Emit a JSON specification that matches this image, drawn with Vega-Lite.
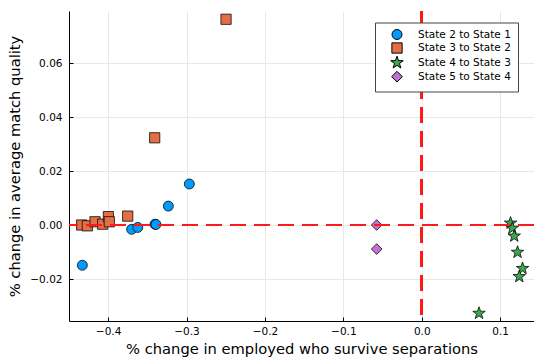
{
  "$schema": "https://vega.github.io/schema/vega-lite/v6.json",
  "width": 465,
  "height": 310,
  "autosize": "none",
  "padding": {"left": 69, "top": 11, "right": 0, "bottom": 41},
  "background": "white",
  "config": {
    "view": {"stroke": null},
    "font": "DejaVu Sans",
    "axis": {
      "domainColor": "#000000",
      "domainWidth": 1,
      "tickColor": "#000000",
      "tickSize": -4,
      "tickWidth": 1,
      "labelFont": "DejaVu Sans",
      "labelFontSize": 10.5,
      "labelColor": "#000000",
      "titleFont": "DejaVu Sans",
      "titleFontSize": 14.7,
      "titleFontWeight": "normal",
      "titleColor": "#000000",
      "gridColor": "#e8e8e8",
      "gridWidth": 1
    }
  },
  "data": {
    "values": [
      {"x": -0.4329, "y": -0.0149, "series": "State 2 to State 1"},
      {"x": -0.370, "y": -0.0016, "series": "State 2 to State 1"},
      {"x": -0.3622, "y": -0.0009, "series": "State 2 to State 1"},
      {"x": -0.3402, "y": 0.0003, "series": "State 2 to State 1"},
      {"x": -0.339, "y": 0.0002, "series": "State 2 to State 1"},
      {"x": -0.3232, "y": 0.0070, "series": "State 2 to State 1"},
      {"x": -0.2964, "y": 0.0152, "series": "State 2 to State 1"},
      {"x": -0.2496, "y": 0.0762, "series": "State 3 to State 2"},
      {"x": -0.3406, "y": 0.0323, "series": "State 3 to State 2"},
      {"x": -0.4337, "y": 0.0, "series": "State 3 to State 2"},
      {"x": -0.4265, "y": -0.0003, "series": "State 3 to State 2"},
      {"x": -0.4167, "y": 0.0012, "series": "State 3 to State 2"},
      {"x": -0.4069, "y": 0.0003, "series": "State 3 to State 2"},
      {"x": -0.3997, "y": 0.0031, "series": "State 3 to State 2"},
      {"x": -0.3985, "y": 0.0012, "series": "State 3 to State 2"},
      {"x": -0.375, "y": 0.0033, "series": "State 3 to State 2"},
      {"x": 0.1133, "y": 0.0007, "series": "State 4 to State 3"},
      {"x": 0.1156, "y": -0.0012, "series": "State 4 to State 3"},
      {"x": 0.118, "y": -0.0041, "series": "State 4 to State 3"},
      {"x": 0.1222, "y": -0.0101, "series": "State 4 to State 3"},
      {"x": 0.1286, "y": -0.0161, "series": "State 4 to State 3"},
      {"x": 0.1244, "y": -0.0191, "series": "State 4 to State 3"},
      {"x": 0.0731, "y": -0.0327, "series": "State 4 to State 3"},
      {"x": -0.0574, "y": 0.0, "series": "State 5 to State 4"},
      {"x": -0.0574, "y": -0.0089, "series": "State 5 to State 4"}
    ]
  },
  "layer": [
    {
      "mark": {"type": "point", "filled": true, "opacity": 1, "stroke": "#000000", "strokeWidth": 1, "strokeOpacity": 0.75},
      "encoding": {
        "x": {
          "field": "x", "type": "quantitative",
          "scale": {"domain": [-0.4499, 0.1432], "nice": false, "zero": false},
          "axis": {"values": [-0.4, -0.3, -0.2, -0.1, 0, 0.1], "format": ".1f", "title": "% change in employed who survive separations", "labelPadding": 9, "titlePadding": 5}
        },
        "y": {
          "field": "y", "type": "quantitative",
          "scale": {"domain": [-0.03555, 0.07926], "nice": false, "zero": false},
          "axis": {"values": [-0.02, 0, 0.02, 0.04, 0.06], "format": ".2f", "title": "% change in average match quality", "labelPadding": 11, "titlePadding": 7}
        },
        "size": {
          "field": "series", "type": "nominal",
          "scale": {"domain": ["State 2 to State 1", "State 3 to State 2", "State 4 to State 3", "State 5 to State 4"], "range": [100, 115, 110, 150]},
          "legend": null
        },
        "color": {
          "field": "series", "type": "nominal",
          "scale": {"domain": ["State 2 to State 1", "State 3 to State 2", "State 4 to State 3", "State 5 to State 4"], "range": ["#009AFA", "#E36F47", "#3EA44E", "#C271D2"]},
          "legend": {
            "title": null, "orient": "none", "legendX": 306, "legendY": 11.5,
            "fillColor": "#ffffff", "strokeColor": "#444444", "padding": 6.5,
            "symbolOffset": 9.5, "labelOffset": 15, "labelFontSize": 10.5, "labelFont": "DejaVu Sans",
            "labelColor": "#000000", "rowPadding": -2.3, "symbolSize": 110,
            "symbolStrokeColor": "#000000", "symbolStrokeWidth": 1
          }
        },
        "shape": {
          "field": "series", "type": "nominal",
          "scale": {"domain": ["State 2 to State 1", "State 3 to State 2", "State 4 to State 3", "State 5 to State 4"], "range": ["circle", "square", "M0,-1.25L0.294,-0.4045L1.189,-0.386L0.4755,0.1545L0.735,1.011L0,0.5L-0.735,1.011L-0.4755,0.1545L-1.189,-0.386L-0.294,-0.4045Z", "diamond"]},
          "legend": {
            "title": null, "orient": "none", "legendX": 306, "legendY": 11.5,
            "fillColor": "#ffffff", "strokeColor": "#444444", "padding": 6.5,
            "symbolOffset": 9.5, "labelOffset": 15, "labelFontSize": 10.5, "labelFont": "DejaVu Sans",
            "labelColor": "#000000", "rowPadding": -2.3, "symbolSize": 110,
            "symbolStrokeColor": "#000000", "symbolStrokeWidth": 1
          }
        }
      }
    },
    {
      "mark": {"type": "rule", "color": "#ff1a1a", "strokeWidth": 2, "strokeDash": [15.7, 8.3]},
      "encoding": {"y": {"datum": 0}}
    },
    {
      "mark": {"type": "rule", "color": "#ff1a1a", "strokeWidth": 2, "strokeDash": [15.7, 8.3]},
      "encoding": {"x": {"datum": 0}}
    }
  ]
}
